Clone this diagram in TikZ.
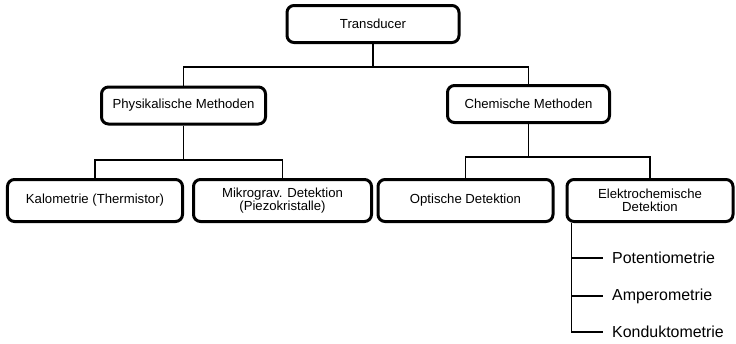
\documentclass[tikz,border=0pt]{standalone}
\usepackage{fontspec}
\setmainfont{Liberation Sans}
\begin{document}
\begin{tikzpicture}[x=1bp,y=-1bp,
  box/.style={draw, line width=3bp, rounded corners=7bp, inner sep=0pt,
    align=center, font=\fontsize{13.2}{12.8}\selectfont},
  wire/.style={line width=1.8bp},
  leaf/.style={anchor=west, inner xsep=9bp, inner ysep=0pt,
    font=\fontsize{16}{16}\selectfont}]
\useasboundingbox (0,0) rectangle (736,343);

% top level
\node[box, minimum width=172bp, minimum height=37bp] (trans) at (373,24) {Transducer};

% second level
\node[box, minimum width=164bp, minimum height=37bp] (phys) at (183.5,105.5) {Physikalische Methoden};
\node[box, minimum width=162bp, minimum height=37bp] (chem) at (528.5,104) {Chemische Methoden};

% third level
\node[box, minimum width=175bp, minimum height=42bp] (kalo) at (95,200.5) {Kalometrie (Thermistor)};
\node[box, minimum width=178bp, minimum height=42bp] (mikro) at (282.5,200.5) {Mikrograv. Detektion\\(Piezokristalle)};
\node[box, minimum width=175bp, minimum height=42bp] (opt) at (465.5,200.5) {Optische Detektion};
\node[box, minimum width=166bp, minimum height=42bp] (elek) at (650,200.5) {Elektrochemische\\Detektion};

% electrochemical sub-methods
\node[leaf] (pot) at (603,258) {Potentiometrie};
\node[leaf] (amp) at (603,296) {Amperometrie};
\node[leaf] (kon) at (603,332) {Konduktometrie};

% bus levels
\coordinate (b1) at (0,67);
\coordinate (b2) at (0,160);
\coordinate (b3) at (0,157);

% connectors
\draw[wire] (trans.south) -- (trans.south |- b1);
\draw[wire] (phys.north) |- (chem.north |- b1) -- (chem.north);

\draw[wire] (phys.south) -- (phys.south |- b2);
\draw[wire] (kalo.north) |- (mikro.north |- b2) -- (mikro.north);

\draw[wire] (chem.south) -- (chem.south |- b3);
\draw[wire] (opt.north) |- (elek.north |- b3) -- (elek.north);

\coordinate (tap) at ([xshift=6bp]elek.south west);
\draw[wire] (tap) |- (kon.west);
\draw[wire] (tap |- pot.west) -- (pot.west);
\draw[wire] (tap |- amp.west) -- (amp.west);
\end{tikzpicture}
\end{document}
